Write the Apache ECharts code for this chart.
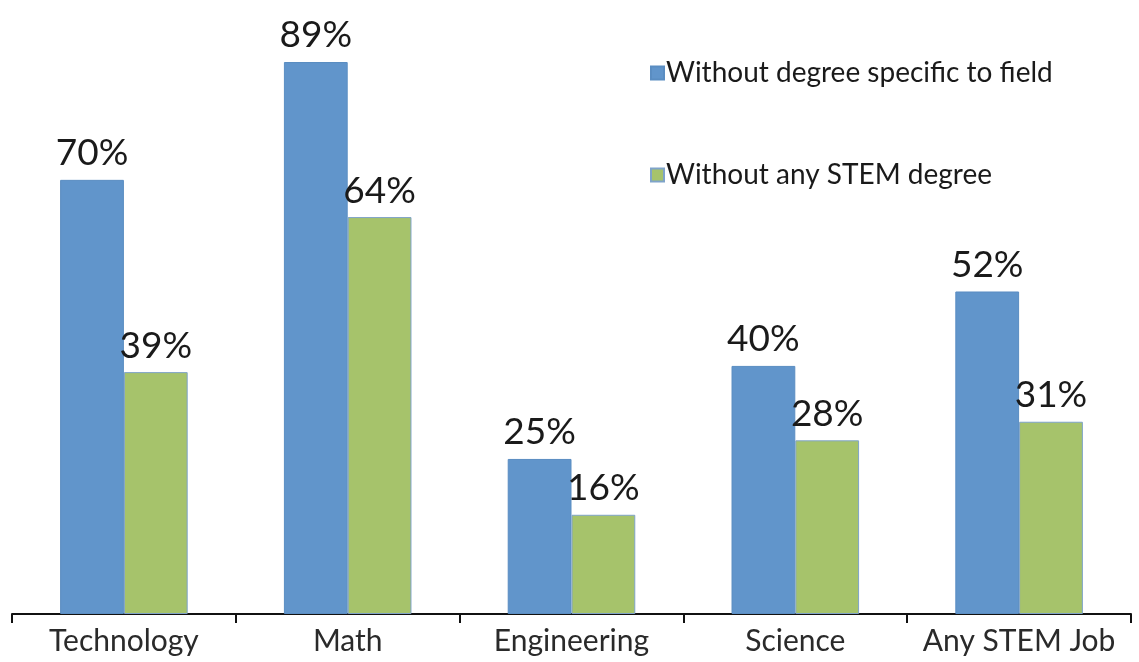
<!DOCTYPE html>
<html><head><meta charset="utf-8">
<script src="https://cdn.jsdelivr.net/npm/echarts@6/dist/echarts.min.js"></script>
<style>html,body{margin:0;padding:0;background:#fff}#c{width:1139px;height:662px}</style>
</head><body><div id="c"></div>
<script>
const categories = ['Technology', 'Math', 'Engineering', 'Science', 'Any STEM Job'];
const seriesNames = ['Without degree specific to field', 'Without any STEM degree'];
const withoutFieldDegree = [70, 89, 25, 40, 52];
const withoutStemDegree = [39, 64, 16, 28, 31];

const chart = echarts.init(document.getElementById('c'));
const labelStyle = {
  show: true, position: 'top', distance: 8,
  formatter: p => p.value + '%',
  fontFamily: 'Lato', fontSize: 37, color: '#1a1a1a'
};
chart.setOption({
  animation: false,
  grid: { left: 12, right: 8, top: 0, bottom: 48 },
  legend: {
    orient: 'vertical', left: 645, top: 54, itemGap: 74,
    itemWidth: 13, itemHeight: 13, icon: 'rect',
    textStyle: { fontFamily: 'Lato', fontSize: 28, color: '#1a1a1a', padding: [0, 0, 0, -3] },
    data: seriesNames
  },
  xAxis: {
    type: 'category', data: categories,
    axisLine: { lineStyle: { color: '#111', width: 2 } },
    axisTick: { show: true, interval: 0, length: 9, lineStyle: { color: '#111', width: 2 } },
    axisLabel: { interval: 0, hideOverlap: false, fontFamily: 'Lato', fontSize: 30, color: '#2a2a2a', margin: 12 }
  },
  yAxis: { type: 'value', min: 0, max: 99, show: false, splitLine: { show: false } },
  series: [
    { name: seriesNames[0], type: 'bar', data: withoutFieldDegree, barGap: '0%', barCategoryGap: '43%',
      itemStyle: { color: '#6195CB', borderColor: '#5a8dc2', borderWidth: 1 }, label: labelStyle },
    { name: seriesNames[1], type: 'bar', data: withoutStemDegree,
      itemStyle: { color: '#A6C36B', borderColor: '#7fa3c9', borderWidth: 1 }, label: labelStyle }
  ]
});
</script></body></html>
